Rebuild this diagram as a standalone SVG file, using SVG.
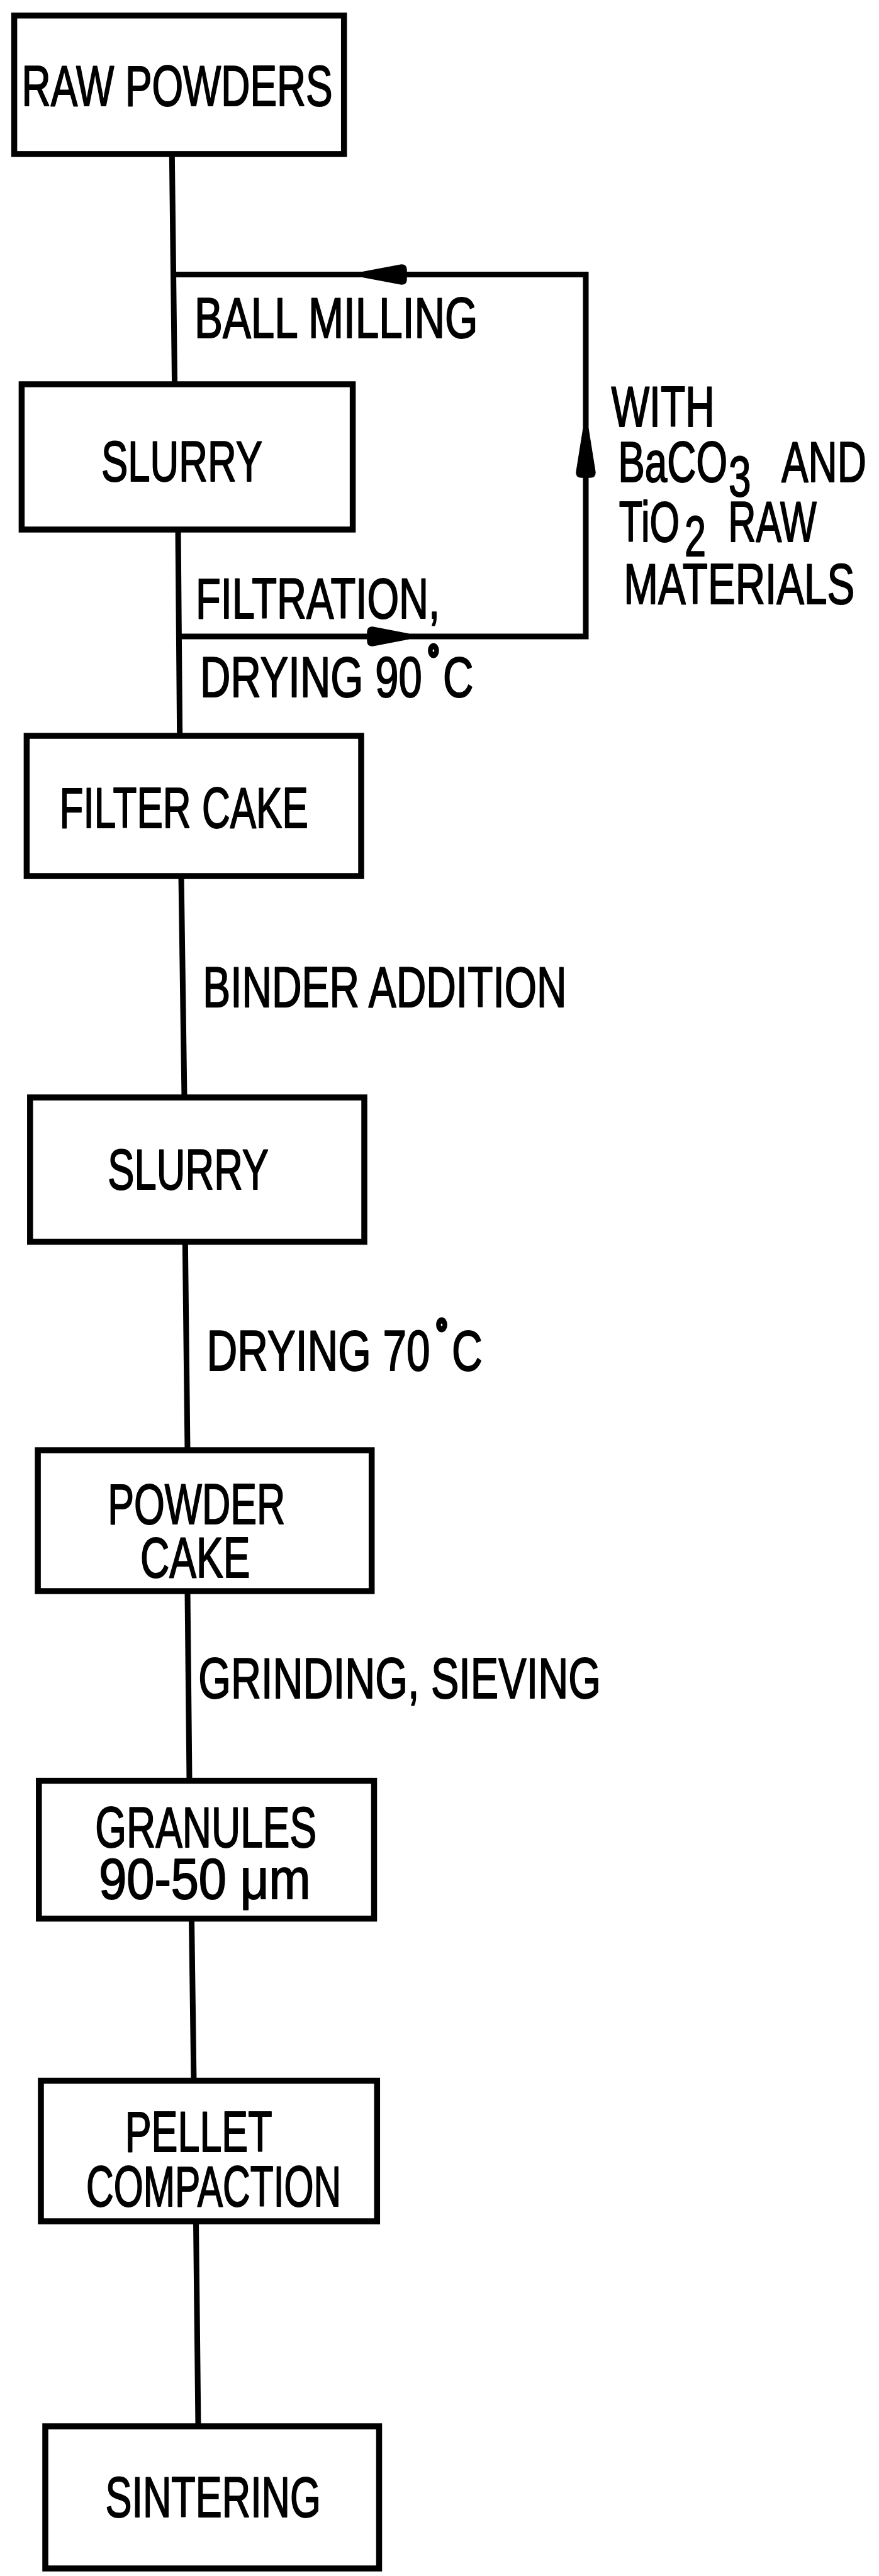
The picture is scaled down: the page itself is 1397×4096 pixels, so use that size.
<svg xmlns="http://www.w3.org/2000/svg" width="1397" height="4096" viewBox="0 0 1397 4096">
<style>
.box{fill:none;stroke:#000;stroke-width:9.5;stroke-linejoin:miter}
.ln{fill:none;stroke:#000;stroke-width:9;stroke-linejoin:miter}
.ah{fill:#000;stroke:#000;stroke-width:1.5;stroke-linejoin:round}
text{font-family:"Liberation Sans",Arial,sans-serif;font-size:90px;fill:#000;stroke:#000;stroke-width:2;stroke-linejoin:round}
.deg{font-size:60px;stroke-width:7px}
</style>
<rect width="1397" height="4096" fill="#fff"/>
<g id="connectors">
<path class="ln" d="M273.3 245 L277.6 611"/>
<path class="ln" d="M274.5 436.5 H931 V1012 H282.5"/>
<path class="ah" d="M577,432.5 L638,421 Q646,421 646,429 L646,444 Q646,452 638,452 L577,440.5 Z"/>
<path class="ah" d="M927,682 L916,751 Q916,759 924,759 L938,759 Q946,759 946,751 L935,682 Z"/>
<path class="ah" d="M649,1008 L592,997 Q584,997 584,1005 L584,1019 Q584,1027 592,1027 L649,1016 Z"/>
<path class="ln" d="M283 842 L285.7 1170"/>
<path class="ln" d="M288 1393 L293 1745"/>
<path class="ln" d="M294.3 1974.5 L298 2306"/>
<path class="ln" d="M298 2530 L301 2831.6"/>
<path class="ln" d="M304.5 3050.7 L308 3308.5"/>
<path class="ln" d="M311.5 3532 L315 3858"/>
</g>
<g id="connector-labels">
<text transform="matrix(0.7485 0 0 1 309 536.5)">BALL MILLING</text>
<text transform="matrix(0.7235 0 0 1 311 982.7)">FILTRATION,</text>
<text transform="matrix(0.745 0 0 1 318 1108)">DRYING 90<tspan class="deg" x="486" y="-40.5">°</tspan><tspan x="518.1" y="0">C</tspan></text>
<g id="recycle-label">
<text transform="matrix(0.7144 0 0 1 971.4 678.2)">WITH</text>
<text transform="matrix(0.71 0 0 1 982.2 765.8)">BaCO<tspan x="247.6" y="23.1">3</tspan><tspan x="365.9" y="0">AND</tspan></text>
<text transform="matrix(0.68 0 0 1 983.8 861.3)">TiO<tspan x="153.2" y="23.1">2</tspan><tspan x="255" y="0">RAW</tspan></text>
<text transform="matrix(0.7293 0 0 1 991.3 959.6)">MATERIALS</text>
</g>
<text transform="matrix(0.732 0 0 1 322.2 1601)">BINDER ADDITION</text>
<text transform="matrix(0.75 0 0 1 328.6 2178.6)">DRYING 70<tspan class="deg" x="485.9" y="-39.1">°</tspan><tspan x="519.2" y="0">C</tspan></text>
<text transform="matrix(0.7397 0 0 1 315.2 2699.5)">GRINDING, SIEVING</text>
</g>
<g id="raw-powders">
<rect class="box" x="22.6" y="24.7" width="524.1" height="220.2"/>
<text transform="matrix(0.7093 0 0 1 34.6 167.5)">RAW POWDERS</text>
</g>
<g id="slurry-1">
<rect class="box" x="34.4" y="611" width="526.2" height="231"/>
<text transform="matrix(0.7041 0 0 1 161 764.7)">SLURRY</text>
</g>
<g id="filter-cake">
<rect class="box" x="42.4" y="1170" width="531.6" height="223"/>
<text transform="matrix(0.6895 0 0 1 94.5 1316.2)">FILTER CAKE</text>
</g>
<g id="slurry-2">
<rect class="box" x="47.8" y="1745" width="531.2" height="229.5"/>
<text transform="matrix(0.7033 0 0 1 171.3 1891.3)">SLURRY</text>
</g>
<g id="powder-cake">
<rect class="box" x="60.1" y="2306" width="530.6" height="224"/>
<text transform="matrix(0.6963 0 0 1 171.3 2423)">POWDER</text>
<text transform="matrix(0.712 0 0 1 222.9 2507.8)">CAKE</text>
</g>
<g id="granules">
<rect class="box" x="61.8" y="2831.6" width="532.7" height="219.1"/>
<text transform="matrix(0.711 0 0 1 151.2 2937.4)">GRANULES</text>
<text transform="matrix(0.88 0 0 1 157.3 3019)">90-50 μm</text>
</g>
<g id="pellet-compaction">
<rect class="box" x="65" y="3308.5" width="534.3" height="223.5"/>
<text transform="matrix(0.698 0 0 1 198.7 3421)">PELLET</text>
<text transform="matrix(0.6716 0 0 1 137 3507.7)">COMPACTION</text>
</g>
<g id="sintering">
<rect class="box" x="72" y="3858" width="530.5" height="226"/>
<text transform="matrix(0.699 0 0 1 167.5 4002.3)">SINTERING</text>
</g>
</svg>
